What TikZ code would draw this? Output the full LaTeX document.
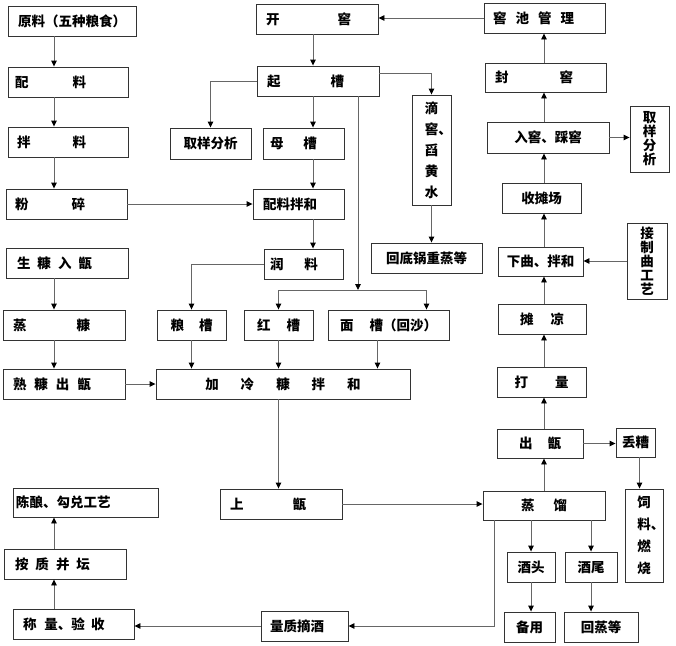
\documentclass[tikz,border=0pt]{standalone}
\usepackage{fontspec}
\setmainfont{Noto Sans CJK SC}
\usetikzlibrary{arrows.meta}
\setlength{\lineskiplimit}{-20pt}
\definecolor{boxline}{HTML}{333333}
\definecolor{flowline}{HTML}{666666}
\tikzset{
  box/.style={draw=boxline, line width=0.9pt, minimum height=30pt, inner ysep=0pt,
    font=\fontsize{13.5pt}{16pt}\selectfont\bfseries},
  cbox/.style={box, align=center, inner xsep=0pt},
  lbox/.style={box, align=left},
  vbox/.style={box, align=center, inner sep=0pt,
    font=\fontsize{13.5pt}{#1}\selectfont\bfseries},
  flow/.style={draw=flowline, line width=0.9pt, -{Triangle[length=6pt,width=5.5pt,color=black]}},
}
\begin{document}
\begin{tikzpicture}[x=1pt, y=-1pt]
\useasboundingbox (0,0) rectangle (676,645);
% left column
\node[cbox, minimum width=128pt] (yuanliao) at (72,21) {原料（五种粮食）};
\node[lbox, text width=106pt, inner xsep=7pt] (peiliao) at (68,82) {配\hspace{44pt}料};
\node[lbox, text width=102pt, inner xsep=9pt] (banliao) at (68,142) {拌\hspace{42pt}料};
\node[lbox, text width=103pt, inner xsep=9pt] (fensui) at (66.5,204) {粉\hspace{43pt}碎};
\node[lbox, text width=100pt, inner xsep=11pt] (shengkang) at (67,263) {生\hspace{7pt}糠\hspace{7pt}入\hspace{7pt}甑};
\node[lbox, text width=102pt, inner xsep=10pt] (zhengkang) at (64,325) {蒸\hspace{50pt}糠};
\node[lbox, text width=102pt, inner xsep=10pt] (shukang) at (64,384) {熟\hspace{8pt}糠\hspace{8pt}出\hspace{8pt}甑};
\node[lbox, text width=139pt, inner xsep=3pt, minimum height=29pt] (chenniang) at (85.5,502.5) {陈酿、勾兑工艺};
\node[lbox, text width=100pt, inner xsep=11pt] (anzhi) at (65,564) {按\hspace{7pt}质\hspace{7pt}并\hspace{7pt}坛};
\node[lbox, text width=101pt, inner xsep=10pt] (chengliang) at (73.5,624) {称\hspace{8pt}量、验\hspace{6pt}收};
% middle column
\node[lbox, text width=102pt, inner xsep=10pt] (kaijiao) at (317,19) {开\hspace{58pt}窖};
\node[lbox, text width=102pt, inner xsep=10pt] (qicao) at (318,81) {起\hspace{50pt}槽};
\node[cbox, minimum width=81pt, minimum height=31pt] (qyL) at (210.5,143.5) {取样分析};
\node[lbox, text width=67pt, inner xsep=7pt, minimum height=31pt] (muzao) at (303.5,143.5) {母\hspace{20pt}槽};
\node[lbox, text width=71pt, inner xsep=10pt] (pljh) at (298.5,204) {配料拌和};
\node[lbox, text width=67pt, inner xsep=6pt] (runliao) at (303.5,264) {润\hspace{21pt}料};
\node[vbox=21pt, minimum width=39pt, minimum height=110pt] (dijiao) at (431.5,150) {滴\\窖\rlap{、}\\舀\\黄\\水};
\node[cbox, minimum width=111pt] (hdg) at (426.5,258) {回底锅重蒸等};
\node[cbox, minimum width=69pt] (liangcao) at (191.5,325) {粮\hspace{15pt}槽};
\node[cbox, minimum width=69pt] (honggao) at (278.5,325) {红\hspace{16pt}槽};
\node[cbox, minimum width=121pt] (miancao) at (388.5,325) {面\hspace{16pt}槽（回沙）};
\node[cbox, minimum width=254pt] (jlk) at (283,384) {加\hspace{22pt}冷\hspace{22pt}糠\hspace{22pt}拌\hspace{22pt}和};
\node[lbox, text width=102pt, inner xsep=10pt] (shangzeng) at (281,504) {上\hspace{49pt}甑};
\node[lbox, text width=69pt, inner xsep=9pt] (lzzj) at (304.5,626) {量质摘酒};
% right column
\node[lbox, text width=103pt, inner xsep=9pt] (cjgl) at (544.5,18) {窖\hspace{9pt}池\hspace{9pt}管\hspace{9pt}理};
\node[lbox, text width=101pt, inner xsep=10pt, minimum height=29pt] (fengjiao) at (545.5,77.5) {封\hspace{51pt}窖};
\node[cbox, minimum width=122pt, minimum height=31pt] (rujiao) at (548,137.5) {入窖、踩窖};
\node[vbox=14pt, minimum width=39pt, minimum height=66pt] (qyR) at (649.5,139) {取\\样\\分\\析};
\node[cbox, minimum width=79pt] (shoutan) at (541.5,198) {收摊场};
\node[cbox, minimum width=85pt, minimum height=29pt] (xiaqu) at (540.5,261.5) {下曲、拌和};
\node[vbox=14pt, minimum width=40pt, minimum height=76pt] (jzq) at (647,261) {接\\制\\曲\\工\\艺};
\node[cbox, minimum width=88pt] (tanliang) at (542,319) {摊\hspace{17pt}凉};
\node[cbox, minimum width=89pt] (daliang) at (541.5,382) {打\hspace{27pt}量};
\node[cbox, minimum width=86pt, minimum height=29pt] (chuzeng) at (540,443.5) {出\hspace{15pt}甑};
\node[cbox, minimum width=39pt, minimum height=29pt] (diuzao) at (635.5,442.5) {丢糟};
\node[cbox, minimum width=122pt, minimum height=29pt] (zhengliu) at (544,505.5) {蒸\hspace{19pt}馏};
\node[vbox=22pt, minimum width=38pt, minimum height=93pt] (siliao) at (644,535.5) {饲\\料\rlap{、}\\燃\\烧};
\node[cbox, minimum width=48pt] (jiutou) at (531,567) {酒头};
\node[cbox, minimum width=52pt] (jiuwei) at (591,567) {酒尾};
\node[cbox, minimum width=51pt] (beiyong) at (529.5,627) {备用};
\node[cbox, minimum width=74pt] (huizheng) at (601,627) {回蒸等};
% columns of the straight arrows
\coordinate (colL) at (54,0);
\coordinate (colM) at (313,0);
\coordinate (colR) at (544,0);
\coordinate (split) at (358,290);
% grain and husk
\draw[flow] (yuanliao.south -| colL) -- (peiliao.north -| colL);
\draw[flow] (peiliao.south -| colL) -- (banliao.north -| colL);
\draw[flow] (banliao.south -| colL) -- (fensui.north -| colL);
\draw[flow] (fensui.east) -- (fensui.east -| pljh.west);
\draw[flow] (shengkang.south -| colL) -- (zhengkang.north -| colL);
\draw[flow] (zhengkang.south -| colL) -- (shukang.north -| colL);
\draw[flow] (shukang.east) -- (shukang.east -| jlk.west);
\draw[flow] (chengliang.north -| colL) -- (anzhi.south -| colL);
\draw[flow] (anzhi.north -| colL) -- (chenniang.south -| colL);
% pit and fermented grains
\draw[flow] (cjgl.west) -- (cjgl.west -| kaijiao.east);
\draw[flow] (kaijiao.south -| colM) -- (qicao.north -| colM);
\draw[flow] (qicao.west) -| (qyL.north);
\draw[flow] (qicao.south -| colM) -- (muzao.north -| colM);
\draw[flow] ([yshift=8pt]qicao.east) -| (dijiao.north);
\draw[flow] (qicao.south -| split) -- (split);
\draw[flow] (split) -| (honggao.north);
\draw[flow] (split) -| ([xshift=38pt]miancao.north);
\draw[flow] (muzao.south -| colM) -- (pljh.north -| colM);
\draw[flow] (pljh.south -| colM) -- (runliao.north -| colM);
\draw[flow] (runliao.west) -| (liangcao.north);
\draw[flow] (dijiao.south) -- (dijiao.south |- hdg.north);
\draw[flow] (liangcao.south) -- (liangcao.south |- jlk.north);
\draw[flow] (honggao.south) -- (honggao.south |- jlk.north);
\draw[flow] ([xshift=-11pt]miancao.south) -- ([xshift=-11pt]miancao.south |- jlk.north);
\draw[flow] (jlk.south -| honggao.south) -- (shangzeng.north -| honggao.south);
% distilling
\draw[flow] (shangzeng.east) -- (shangzeng.east -| zhengliu.west);
\draw[flow] ([xshift=12pt]zhengliu.south west) |- (lzzj.east);
\draw[flow] (lzzj.west) -- (lzzj.west -| chengliang.east);
\draw[flow] (zhengliu.south -| jiutou.north) -- (jiutou.north);
\draw[flow] (zhengliu.south -| jiuwei.north) -- (jiuwei.north);
\draw[flow] (jiutou.south) -- (jiutou.south |- beiyong.north);
\draw[flow] (jiuwei.south) -- (jiuwei.south |- huizheng.north);
\draw[flow] (chuzeng.east) -- (chuzeng.east -| diuzao.west);
\draw[flow] ([xshift=4pt]diuzao.south) -- ([xshift=4pt]diuzao.south |- siliao.north);
% back into the pit
\draw[flow] (zhengliu.north -| colR) -- (chuzeng.south -| colR);
\draw[flow] (chuzeng.north -| colR) -- (daliang.south -| colR);
\draw[flow] (daliang.north -| colR) -- (tanliang.south -| colR);
\draw[flow] (tanliang.north -| colR) -- (xiaqu.south -| colR);
\draw[flow] (xiaqu.north -| colR) -- (shoutan.south -| colR);
\draw[flow] (shoutan.north -| colR) -- (rujiao.south -| colR);
\draw[flow] (rujiao.north -| colR) -- (fengjiao.south -| colR);
\draw[flow] (fengjiao.north -| colR) -- (cjgl.south -| colR);
\draw[flow] (jzq.west) -- (jzq.west -| xiaqu.east);
\draw[flow] (rujiao.east) -- (rujiao.east -| qyR.west);
\end{tikzpicture}
\end{document}
